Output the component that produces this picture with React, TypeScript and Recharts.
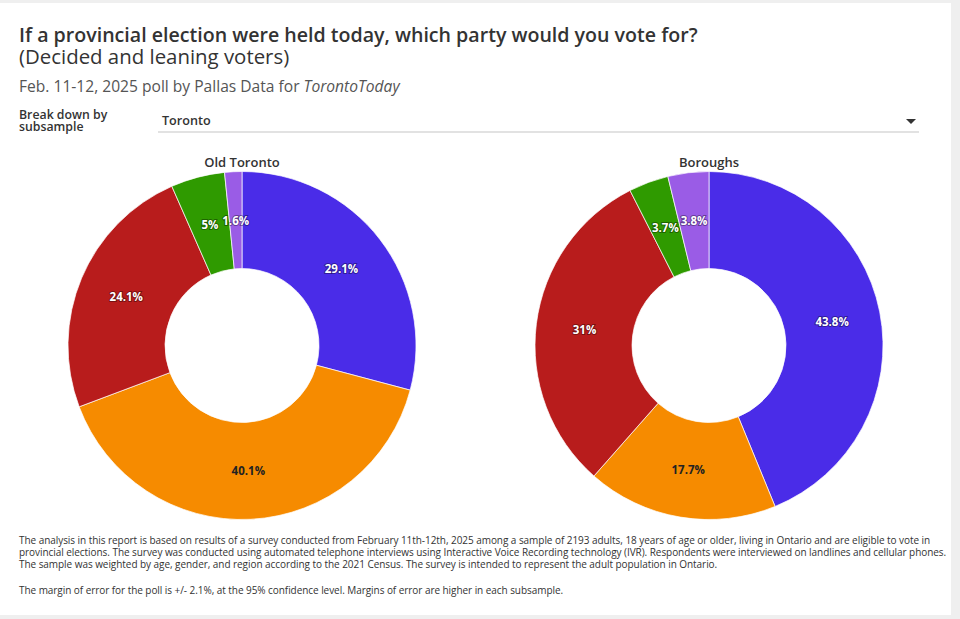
import React from 'react';
import { PieChart, Pie, Cell } from 'recharts';

const parties = ['PC', 'Liberal', 'NDP', 'Green', 'Other'];
const oldToronto = [29.1, 40.1, 24.1, 5, 1.6];
const boroughs = [43.8, 17.7, 31, 3.7, 3.8];

const colors: Record<string, string> = {
  PC: '#4a2ce8',
  Liberal: '#f68b00',
  NDP: '#b81c1c',
  Green: '#2f9a00',
  Other: '#9a5ce6',
};
const labelColors: Record<string, string> = {
  PC: '#fff',
  Liberal: '#222',
  NDP: '#fff',
  Green: '#fff',
  Other: '#fff',
};

const footLines = [
  'The analysis in this report is based on results of a survey conducted from February 11th-12th, 2025 among a sample of 2193 adults, 18 years of age or older, living in Ontario and are eligible to vote in',
  'provincial elections. The survey was conducted using automated telephone interviews using Interactive Voice Recording technology (IVR). Respondents were interviewed on landlines and cellular phones.',
  'The sample was weighted by age, gender, and region according to the 2021 Census. The survey is intended to represent the adult population in Ontario.',
];
const marginLine =
  'The margin of error for the poll is +/- 2.1%, at the 95% confidence level. Margins of error are higher in each subsample.';

const toRows = (vals: number[]) => parties.map((p, i) => ({ party: p, value: vals[i] }));
const oldRows = toRows(oldToronto);
const boroRows = toRows(boroughs);

const RADIAN = Math.PI / 180;
const font = '"Open Sans", sans-serif';

const renderLabel = (props: any) => {
  const { cx, cy, midAngle, innerRadius, outerRadius, payload } = props;
  const r = (innerRadius + outerRadius) / 2;
  const x = cx + r * Math.cos(-midAngle * RADIAN);
  const y = cy + r * Math.sin(-midAngle * RADIAN);
  const party = payload.party;
  const dark = labelColors[party] !== '#fff';
  return (
    <text
      x={x}
      y={y}
      textAnchor="middle"
      dominantBaseline="central"
      fontFamily={font}
      fontSize={11.5}
      fontWeight={700}
      fill={labelColors[party]}
      stroke={dark ? 'none' : 'rgba(0,0,0,0.35)'}
      strokeWidth={2}
      paintOrder="stroke"
    >
      {payload.value}%
    </text>
  );
};

const abs = (s: React.CSSProperties): React.CSSProperties => ({ position: 'absolute', ...s });

export default function App() {
  return (
    <div style={{ position: 'fixed', left: 0, top: 0, width: 960, height: 619, background: '#efefef', fontFamily: font, color: '#333' }}>
      <div style={abs({ left: 0, top: 3, width: 951, height: 612, background: '#fff' })}>
        <div style={abs({ left: 19, top: 20, fontSize: 19.6, lineHeight: '24px', fontWeight: 600, whiteSpace: 'nowrap', color: '#333' })}>
          If a provincial election were held today, which party would you vote for?
        </div>
        <div style={abs({ left: 19, top: 41, fontSize: 20.4, lineHeight: '24px', whiteSpace: 'nowrap', color: '#333' })}>
          (Decided and leaning voters)
        </div>
        <div style={abs({ left: 19, top: 74, fontSize: 15.6, lineHeight: '18px', whiteSpace: 'nowrap', color: '#555' })}>
          Feb. 11-12, 2025 poll by Pallas Data for <i>TorontoToday</i>
        </div>
        <div style={abs({ left: 19, top: 106, fontSize: 12.3, lineHeight: '12px', fontWeight: 600, color: '#333' })}>
          Break down by
          <br />
          subsample
        </div>
        <div style={abs({ left: 162, top: 110, fontSize: 12.6, lineHeight: '16px', fontWeight: 600, color: '#333' })}>Toronto</div>
        <div style={abs({ left: 158, top: 128, width: 761, height: 2, background: '#e2e2e2' })} />
        <div
          style={abs({
            left: 906,
            top: 116,
            width: 0,
            height: 0,
            borderLeft: '5px solid transparent',
            borderRight: '5px solid transparent',
            borderTop: '5px solid #333',
          })}
        />
        <div style={abs({ left: 142, top: 151, width: 200, textAlign: 'center', fontSize: 13, lineHeight: '16px', fontWeight: 600 })}>Old Toronto</div>
        <div style={abs({ left: 609, top: 151, width: 200, textAlign: 'center', fontSize: 13, lineHeight: '16px', fontWeight: 600 })}>Boroughs</div>
        <div style={abs({ left: 0, top: 137 })}>
          <PieChart width={950} height={390}>
            <Pie
              data={oldRows}
              dataKey="value"
              nameKey="party"
              cx={237}
              cy={200.5}
              innerRadius={77}
              outerRadius={174}
              startAngle={90}
              endAngle={-270}
              stroke="#fff"
              strokeWidth={0.7}
              label={renderLabel}
              labelLine={false}
              isAnimationActive={false}
            >
              {oldRows.map((d) => (
                <Cell key={d.party} fill={colors[d.party]} />
              ))}
            </Pie>
            <Pie
              data={boroRows}
              dataKey="value"
              nameKey="party"
              cx={704}
              cy={200.5}
              innerRadius={77}
              outerRadius={174}
              startAngle={90}
              endAngle={-270}
              stroke="#fff"
              strokeWidth={0.7}
              label={renderLabel}
              labelLine={false}
              isAnimationActive={false}
            >
              {boroRows.map((d) => (
                <Cell key={d.party} fill={colors[d.party]} />
              ))}
            </Pie>
          </PieChart>
        </div>
        <div style={abs({ left: 19, top: 531, fontSize: 10, lineHeight: '12px', letterSpacing: '-0.055px', color: '#333', whiteSpace: 'nowrap' })}>
          {footLines.map((l) => (
            <div key={l}>{l}</div>
          ))}
          <div style={{ marginTop: 14 }}>{marginLine}</div>
        </div>
      </div>
    </div>
  );
}
